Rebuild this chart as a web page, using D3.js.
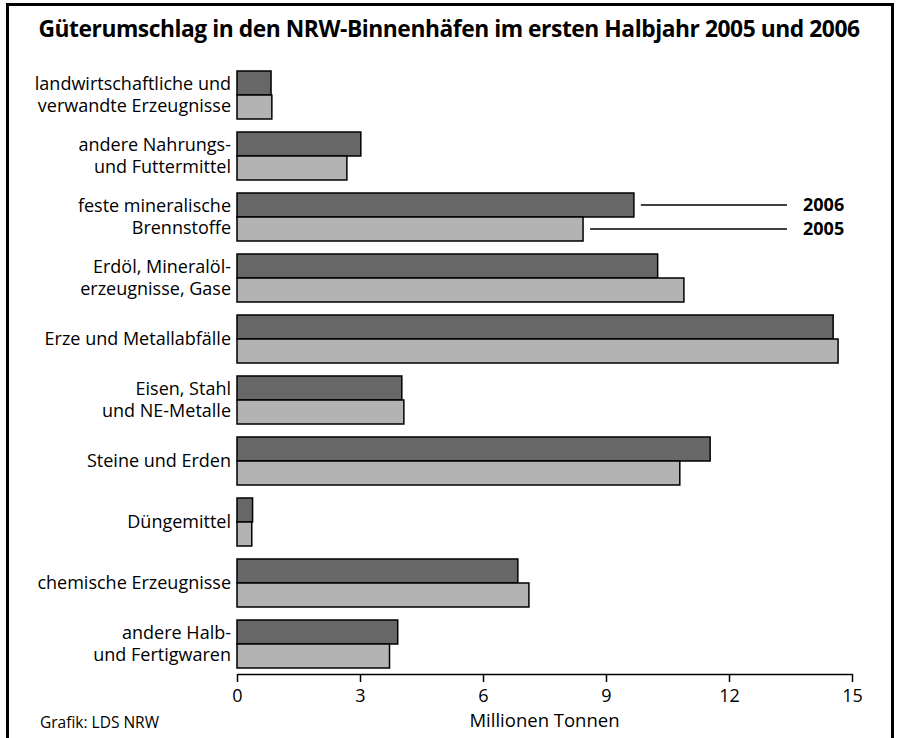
<!DOCTYPE html>
<html>
<head>
<meta charset="utf-8">
<script src="https://cdn.jsdelivr.net/npm/d3@7"></script>
<style>
  body { margin: 0; background: #fff; }
  text { font-family: "Open Sans", sans-serif; fill: #000; }
</style>
</head>
<body>
<div class="chart"></div>
<script>
// Kategorien (zweizeilig) und Werte in Mio. t
const categories = [
    ["landwirtschaftliche und", "verwandte Erzeugnisse"],
    ["andere Nahrungs-", "und Futtermittel"],
    ["feste mineralische", "Brennstoffe"],
    ["Erdöl, Mineralöl-", "erzeugnisse, Gase"],
    ["Erze und Metallabfälle"],
    ["Eisen, Stahl", "und NE-Metalle"],
    ["Steine und Erden"],
    ["Düngemittel"],
    ["chemische Erzeugnisse"],
    ["andere Halb-", "und Fertigwaren"]
];
const values2006 = [0.83, 3.02, 9.68, 10.26, 14.54, 4.02, 11.54, 0.38, 6.85, 3.92];
const values2005 = [0.85, 2.68, 8.44, 10.90, 14.66, 4.07, 10.80, 0.36, 7.12, 3.72];
const seriesNames = ["2006", "2005"];
const xTicks = [0, 3, 6, 9, 12, 15];

const width = 897, height = 738;

const svg = d3.select(".chart")
    .append("svg")
    .attr("width", width)
    .attr("height", height);

// Rahmen (unten offen, läuft aus dem Bild)
svg.append("rect")
    .attr("x", 7.5).attr("y", 4.5)
    .attr("width", 885).attr("height", 760)
    .attr("fill", "none")
    .attr("stroke", "#000")
    .attr("stroke-width", 3);

// Titel
svg.append("text")
    .attr("x", 449)
    .attr("y", 37)
    .attr("text-anchor", "middle")
    .attr("font-size", 22.8)
    .attr("font-weight", "bold")
    .attr("letter-spacing", -0.45)
    .text("Güterumschlag in den NRW-Binnenhäfen im ersten Halbjahr 2005 und 2006");

// Skalen
const x = d3.scaleLinear().domain([0, 15]).range([237, 852]);

const y = d3.scaleBand()
    .domain(d3.range(categories.length))
    .range([64.5, 674.5])
    .paddingInner(0.213)
    .paddingOuter(0.1065);

const ySub = d3.scaleBand()
    .domain(seriesNames)
    .range([0, y.bandwidth()]);

const colors = { "2006": "#676767", "2005": "#b3b3b3" };

const rows = categories.map((c, i) => ({
    i: i,
    label: c,
    vals: [{ s: "2006", v: values2006[i] }, { s: "2005", v: values2005[i] }]
}));

const groups = svg.selectAll(".group")
    .data(rows)
    .enter()
    .append("g")
    .attr("class", "group")
    .attr("transform", d => `translate(0,${y(d.i)})`);

groups.selectAll("rect")
    .data(d => d.vals)
    .enter()
    .append("rect")
    .attr("x", x(0))
    .attr("y", d => ySub(d.s))
    .attr("width", d => x(d.v) - x(0))
    .attr("height", ySub.bandwidth())
    .attr("fill", d => colors[d.s])
    .attr("stroke", "#000")
    .attr("stroke-width", 1.5);

// Kategorienbeschriftung
groups.append("text")
    .attr("x", 231)
    .attr("y", y.bandwidth() / 2)
    .attr("text-anchor", "end")
    .attr("font-size", 18)
    .each(function(d) {
        const t = d3.select(this);
        const n = d.label.length;
        d.label.forEach((line, k) => {
            t.append("tspan")
                .attr("x", 231)
                .attr("dy", k === 0 ? (-(n - 1) * 11.5 + 6) : 23)
                .text(line);
        });
    });

// x-Achse
const axis = svg.append("g")
    .attr("transform", `translate(0,${674})`)
    .call(d3.axisBottom(x).tickValues(xTicks).tickSize(8).tickPadding(7).tickSizeOuter(0));
axis.select(".domain").attr("stroke-width", 1.5);
axis.selectAll(".tick line").attr("stroke-width", 1.5);
axis.selectAll(".tick text")
    .attr("font-size", 18)
    .attr("font-family", "Open Sans, sans-serif");

svg.append("text")
    .attr("x", x(7.5))
    .attr("y", 727)
    .attr("text-anchor", "middle")
    .attr("font-size", 18.5)
    .text("Millionen Tonnen");

svg.append("text")
    .attr("x", 40)
    .attr("y", 728)
    .attr("font-size", 15.5)
    .text("Grafik: LDS NRW");

// Legende an der Kategorie "feste mineralische Brennstoffe"
const legendRow = 2;
const legend = [
    { s: "2006", v: values2006[legendRow] },
    { s: "2005", v: values2005[legendRow] }
];
legend.forEach(d => {
    const yy = y(legendRow) + ySub(d.s) + ySub.bandwidth() / 2;
    svg.append("line")
        .attr("x1", x(d.v) + 7)
        .attr("x2", 787)
        .attr("y1", yy).attr("y2", yy)
        .attr("stroke", "#000")
        .attr("stroke-width", 1.5);
    svg.append("text")
        .attr("x", 803)
        .attr("y", yy + 6)
        .attr("font-size", 18)
        .attr("font-weight", "bold")
        .text(d.s);
});
</script>
</body>
</html>
